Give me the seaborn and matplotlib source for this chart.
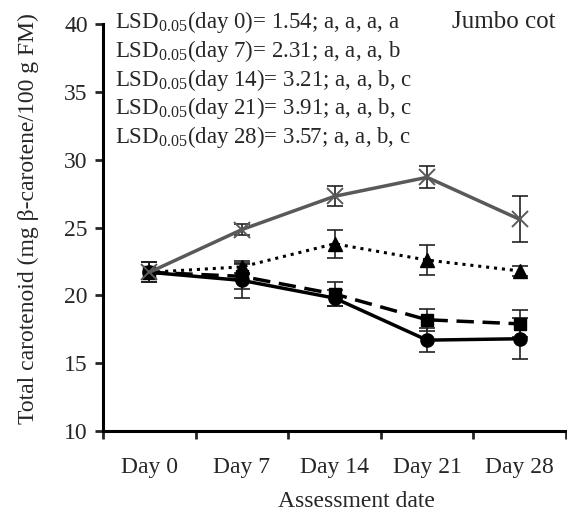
import numpy as np
import pandas as pd
import matplotlib
matplotlib.use("Agg")
import matplotlib.pyplot as plt
import seaborn as sns

days = ["Day 0", "Day 7", "Day 14", "Day 21", "Day 28"]
circle_mean = [21.7, 21.1, 19.8, 16.7, 16.8]
circle_err = [0.75, 1.3, 0.6, 0.9, 1.5]
square_mean = [21.7, 21.4, 20.1, 18.2, 17.9]
square_err = [0.75, 0.9, 0.9, 0.8, 1.0]
triangle_mean = [21.7, 22.1, 23.8, 22.6, 21.8]
triangle_err = [0.75, 0.45, 1.05, 1.1, 0.4]
cross_mean = [21.7, 24.85, 27.3, 28.7, 25.6]
cross_err = [0.75, 0.4, 0.75, 0.8, 1.7]
lsd_lines = [
    "LSD$_{\\mathregular{0.05}}$(day 0)= 1.54; a, a, a, a",
    "LSD$_{\\mathregular{0.05}}$(day 7)= 2.31; a, a, a, b",
    "LSD$_{\\mathregular{0.05}}$(day 14)= 3.21; a, a, b, c",
    "LSD$_{\\mathregular{0.05}}$(day 21)= 3.91; a, a, b, c",
    "LSD$_{\\mathregular{0.05}}$(day 28)= 3.57; a, a, b, c",
]
cultivar = "Jumbo cot"

sns.set_theme(style="white")
plt.rcParams["font.family"] = ["Liberation Serif", "DejaVu Serif"]
plt.rcParams["mathtext.fontset"] = "custom"
plt.rcParams["mathtext.rm"] = "Liberation Serif"

fig = plt.figure(figsize=(5.67, 5.13), dpi=100)
ax = fig.add_axes([0.1817, 0.1598, 0.8165, 0.7934])

xpos = np.arange(len(days))
series = [
    (circle_mean, circle_err, "o", "black", "-", 2.5, 9.5),
    (square_mean, square_err, "s", "black", (0, (5, 2.5)), 2.5, 8.8),
    (triangle_mean, triangle_err, "^", "black", (0, (1, 1.6)), 2.2, 9.5),
    (cross_mean, cross_err, "x", "#595959", "-", 2.5, 11),
]
for mean, err, mk, col, ls, lw, ms in series:
    df = pd.DataFrame({"x": xpos, "y": mean})
    ax.errorbar(xpos, mean, yerr=err, fmt="none", ecolor="#222222",
                elinewidth=1.2, capsize=6, capthick=1.2, zorder=2)
    sns.lineplot(data=df, x="x", y="y", ax=ax, color=col, linestyle=ls,
                 linewidth=lw, marker=mk, markersize=ms,
                 markeredgecolor=col, markerfacecolor=col,
                 markeredgewidth=1.4 if mk == "x" else 1, zorder=3)

ax.set_xlim(-0.5, len(days) - 0.5)
ax.set_ylim(10, 40)
ax.set_yticks([10, 15, 20, 25, 30, 35, 40])
ax.set_xticks(np.arange(len(days) + 1) - 0.5)
ax.set_xticklabels([])
ax.set_xticks(xpos, minor=True)
ax.set_xticklabels(days, minor=True)
ax.tick_params(axis="x", which="major", direction="out", length=6, width=2, bottom=True)
ax.tick_params(axis="x", which="minor", length=0, pad=19, labelsize=17, bottom=True)
ax.tick_params(axis="y", direction="out", length=6, width=2, left=True, labelsize=17, pad=5)
for s in ["top", "right"]:
    ax.spines[s].set_visible(False)
for s in ["left", "bottom"]:
    ax.spines[s].set_linewidth(2.2)
    ax.spines[s].set_color("black")

ax.set_xlabel("Assessment date", fontsize=17)
ax.xaxis.set_label_coords(0.547, -0.148)
ax.set_ylabel("Total carotenoid (mg β-carotene/100 g FM)", fontsize=17)
ax.yaxis.set_label_coords(-0.138, 0.523)

for i, t in enumerate(lsd_lines):
    ax.text(0.025, 0.990 - i * 0.0706, t, transform=ax.transAxes, fontsize=16.5,
            va="baseline", ha="left")
ax.text(0.978, 0.990, cultivar, transform=ax.transAxes, fontsize=18,
        va="baseline", ha="right")

fig.savefig("out.png", dpi=100)
